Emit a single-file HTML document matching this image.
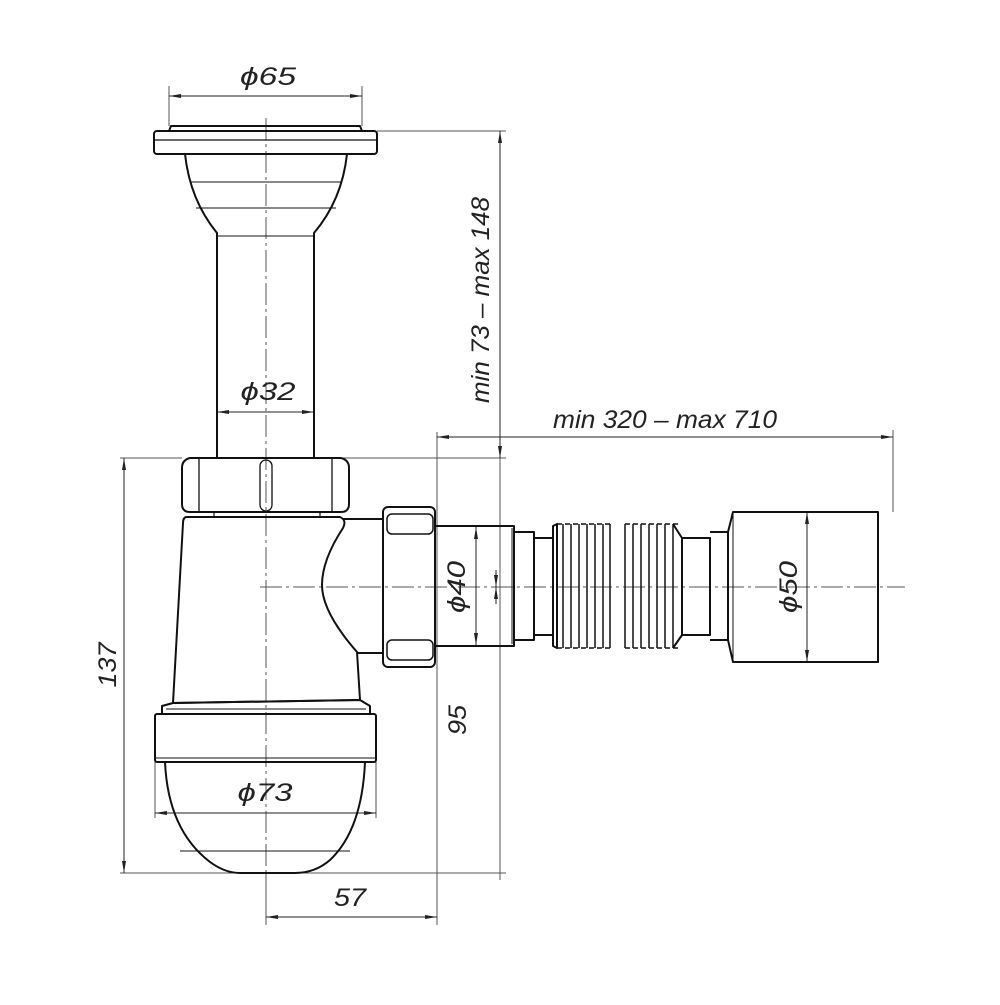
<!DOCTYPE html>
<html><head><style>html,body{margin:0;padding:0;background:#fff}</style></head><body>
<svg width="1000" height="1000" viewBox="0 0 1000 1000" xmlns="http://www.w3.org/2000/svg">
<defs>
<marker id="a" viewBox="0 0 12 6" refX="12" refY="3" markerWidth="12" markerHeight="6" orient="auto-start-reverse" markerUnits="userSpaceOnUse"><path d="M0,1 L12,3 L0,5 Z" fill="#222"/></marker>
</defs>
<g fill="none" stroke="#555" stroke-width="1">
<!-- extension lines -->
<line x1="169" y1="86" x2="169" y2="126"/><line x1="362" y1="86" x2="362" y2="126"/>
<line x1="377" y1="131" x2="506" y2="131"/>
<line x1="120" y1="458" x2="182" y2="458"/><line x1="314" y1="458" x2="506" y2="458"/>
<line x1="120" y1="873" x2="506" y2="873"/>
<line x1="437" y1="432" x2="437" y2="925"/>
<line x1="500" y1="131" x2="500" y2="880"/>
<line x1="893" y1="430" x2="893" y2="512"/>
<line x1="266" y1="873" x2="266" y2="925"/>
<line x1="155" y1="762" x2="155" y2="818"/><line x1="376" y1="762" x2="376" y2="818"/>
<!-- centerlines -->
<line x1="266" y1="118" x2="266" y2="880" stroke-dasharray="22,4,3,4"/>
<line x1="260" y1="587" x2="905" y2="587" stroke-dasharray="22,4,3,4"/>
</g>
<!-- dimension lines -->
<g stroke="#222" stroke-width="1" fill="none">
<line x1="169" y1="96" x2="362" y2="96" marker-start="url(#a)" marker-end="url(#a)"/>
<line x1="217" y1="412" x2="314" y2="412" marker-start="url(#a)" marker-end="url(#a)"/>
<line x1="500" y1="131" x2="500" y2="458" marker-start="url(#a)" marker-end="url(#a)"/>
<line x1="437" y1="437" x2="893" y2="437" marker-start="url(#a)" marker-end="url(#a)"/>
<line x1="124" y1="458" x2="124" y2="873" marker-start="url(#a)" marker-end="url(#a)"/>
<line x1="155" y1="813" x2="376" y2="813" marker-start="url(#a)" marker-end="url(#a)"/>
<line x1="266" y1="917" x2="437" y2="917" marker-start="url(#a)" marker-end="url(#a)"/>
<line x1="476" y1="527" x2="476" y2="645" marker-start="url(#a)" marker-end="url(#a)"/>
<line x1="807" y1="512" x2="807" y2="662" marker-start="url(#a)" marker-end="url(#a)"/>
<line x1="496" y1="570" x2="496" y2="587" marker-end="url(#a)"/>
<line x1="496" y1="604" x2="496" y2="587" marker-end="url(#a)"/>
</g>
<!-- part outlines -->
<g stroke="#111" stroke-width="2" fill="none" stroke-linejoin="round">
<!-- top rim and flange -->
<path d="M169,131 L171,126 L360,126 L362,131"/>
<rect x="154" y="131" width="223" height="23" rx="3"/>
<line x1="155" y1="140" x2="376" y2="140" stroke-width="1.2"/>
<!-- cone -->
<path d="M185,154 Q190,200 217,233 L217,458"/>
<path d="M347,154 Q342,200 314,233 L314,458"/>
<line x1="190" y1="182" x2="342" y2="182" stroke-width="1"/>
<line x1="196" y1="208" x2="336" y2="208" stroke-width="1"/>
<line x1="217" y1="236" x2="314" y2="236" stroke-width="1"/>
<!-- nut -->
<path d="M190,458 L341,458 Q349,460 349,468 L349,504 Q349,512 341,512 L190,512 Q182,512 182,504 L182,468 Q182,460 190,458 Z"/>
<line x1="199" y1="459" x2="199" y2="511" stroke-width="1.3"/>
<line x1="332" y1="459" x2="332" y2="511" stroke-width="1.3"/>
<rect x="260" y="460" width="12" height="51" rx="6" stroke-width="1.3"/>
<line x1="214" y1="512" x2="214" y2="517" stroke-width="1.2"/><line x1="320" y1="512" x2="320" y2="517" stroke-width="1.2"/>
<!-- body -->
<path d="M186,517 L340,517 Q347,520 343,528 Q322,560 322,585 Q322,612 357,652 L360,700 L173,703 L183,523 Q183,518 186,517 Z"/>
<line x1="343" y1="519" x2="382" y2="519"/>
<line x1="357" y1="653" x2="382" y2="653"/>
<!-- ring step and band -->
<path d="M162,713 L162,706 L173,703 L360,700 L370,706 L370,713"/>
<line x1="166" y1="709" x2="366" y2="709" stroke-width="1"/>
<rect x="155" y="714" width="221" height="48" rx="2"/>
<line x1="156" y1="758" x2="375" y2="758" stroke-width="1"/>
<!-- dome -->
<path d="M165,762 Q168,830 210,862 Q225,873 240,873 L295,873 Q315,873 330,860 Q362,830 365,762"/>
<line x1="180" y1="851" x2="350" y2="851" stroke-width="1"/>
<!-- outlet nut -->
<rect x="383" y="507" width="52" height="160" rx="5"/>
<rect x="387" y="514" width="46" height="20" rx="5" stroke-width="1.5"/>
<rect x="387" y="640" width="46" height="20" rx="5" stroke-width="1.5"/>
<!-- pipe -->
<path d="M435,526 L514,526 L514,646 L435,646"/>
<line x1="512" y1="528" x2="512" y2="644" stroke-width="1"/>
<path d="M514,532 L534,532 L534,640 L514,640"/>
<path d="M534,538 L553,538 L553,635 L534,635"/>
<!-- corrugation 1 -->
<path d="M553,526 L557,524 L557,648 L553,646 Z"/>
<g stroke-width="1.5">
<path d="M563,524 L563,648 M571,524 L571,648 M579,524 L579,648 M587,524 L587,648 M595,524 L595,648 M603,524 L603,648 M610,524 L610,648"/>
<path d="M557,524 L610,524 M557,648 L610,648" stroke-dasharray="5,3"/>
<path d="M625,524 L625,648 M633,524 L633,648 M641,524 L641,648 M649,524 L649,648 M657,524 L657,648 M665,524 L665,648 M673,524 L673,648"/>
<path d="M625,524 L678,524 M625,648 L678,648" stroke-dasharray="5,3"/>
</g>
<path d="M673,524 L682,538 L682,635 L673,648"/>
<path d="M682,538 L710,538 L710,635 L682,635"/>
<path d="M710,532 L728,532 L728,640 L710,640"/>
<path d="M728,532 L733,512 L878,512 L878,662 L733,662 L728,640"/>
<line x1="733" y1="514" x2="733" y2="660" stroke-width="1"/>
</g>
<!-- text -->
<g font-family="Liberation Sans, sans-serif" font-style="italic" font-size="25" fill="#222" text-anchor="middle">
<text x="268" y="85" textLength="56" lengthAdjust="spacingAndGlyphs">ϕ65</text>
<text x="268" y="400" textLength="55" lengthAdjust="spacingAndGlyphs">ϕ32</text>
<text x="265" y="801" textLength="55" lengthAdjust="spacingAndGlyphs">ϕ73</text>
<text x="350" y="906" textLength="32" lengthAdjust="spacingAndGlyphs">57</text>
<text x="665" y="428" textLength="224" lengthAdjust="spacingAndGlyphs">min 320 – max 710</text>
<text transform="translate(489,300) rotate(-90)" textLength="206" lengthAdjust="spacingAndGlyphs">min 73 – max 148</text>
<text transform="translate(116,665) rotate(-90)" textLength="45" lengthAdjust="spacingAndGlyphs">137</text>
<text transform="translate(466,720) rotate(-90)" textLength="30" lengthAdjust="spacingAndGlyphs">95</text>
<text transform="translate(465,587) rotate(-90)" textLength="52" lengthAdjust="spacingAndGlyphs">ϕ40</text>
<text transform="translate(797,587) rotate(-90)" textLength="52" lengthAdjust="spacingAndGlyphs">ϕ50</text>
</g>
</svg>
</body></html>
